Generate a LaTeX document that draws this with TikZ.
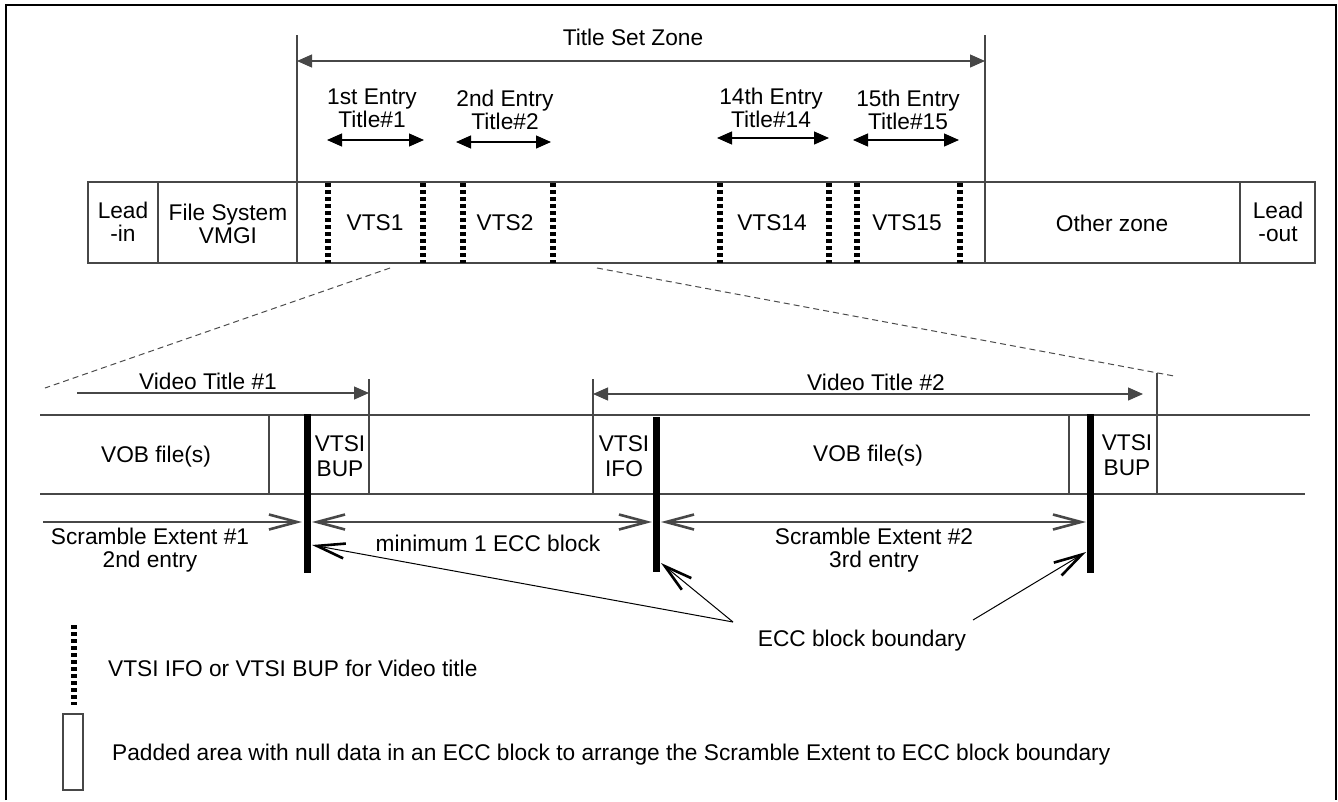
\documentclass[tikz,border=0pt]{standalone}
\usepackage{fontspec}
\setmainfont{Liberation Sans}
\usetikzlibrary{arrows.meta}
\begin{document}
\begin{tikzpicture}[x=1pt,y=-1pt,
  thin/.style={draw=black!72, line width=1.2pt},
  dashc/.style={draw=black!70, line width=1pt, dash pattern=on 6pt off 4pt},
  vtsi/.style={draw=black, line width=6.5pt, dash pattern=on 4pt off 3pt},
  ecc/.style={draw=black, line width=7pt},
  lbl/.style={font=\fontsize{22.7}{23}\selectfont, align=center, inner sep=0pt},
  lbl2/.style={font=\fontsize{22.7}{25}\selectfont, align=center, inner sep=0pt},
  tri/.tip={Triangle[length=15pt,width=13pt]},
  barb/.tip={Straight Barb[length=28pt,width=15pt,line width=2.6pt]}]
\useasboundingbox (0,0) rectangle (1338,801);
% outer frame
\draw[line width=1.6pt] (6,800) -- (6,5) -- (1336,5) -- (1336,800);

% ---------- top strip ----------
\coordinate (tsL) at (297,35);
\coordinate (tsR) at (985,35);
\draw[thin] (88,182) rectangle (1315,263);
\draw[thin] (158,182) -- (158,263);
\draw[thin] (tsL) -- (297,263);
\draw[thin] (tsR) -- (985,263);
\draw[thin] (1240,182) -- (1240,263);
\draw[thin, tri-tri] (297,61) -- (985,61);
\node[lbl] (tsz) at (633,37) {Title Set Zone};

% entry arrows
\draw[thin, draw=black, tri-tri] (327,140) -- (424,140);
\draw[thin, draw=black, tri-tri] (456,142) -- (551,142);
\draw[thin, draw=black, tri-tri] (717,138) -- (829,138);
\draw[thin, draw=black, tri-tri] (853,140) -- (959,140);
\node[lbl] (e1) at (372,108) {1st Entry\\Title\#1};
\node[lbl] (e2) at (505,110) {2nd Entry\\Title\#2};
\node[lbl] (e14) at (771,108) {14th Entry\\Title\#14};
\node[lbl] (e15) at (908,110) {15th Entry\\Title\#15};

% vtsi markers
\foreach \xx in {328,423,463,553,720,829,857,960}
  \draw[vtsi] (\xx,183) -- (\xx,263);

\node[lbl] (leadin) at (123,222) {Lead\\-in};
\node[lbl] (fs) at (228,224) {File System\\VMGI};
\node[lbl] (vts1) at (375,223) {VTS1};
\node[lbl] (vts2) at (505,223) {VTS2};
\node[lbl] (vts14) at (772,223) {VTS14};
\node[lbl] (vts15) at (907,223) {VTS15};
\node[lbl] (oz) at (1112,223) {Other zone};
\node[lbl] (leadout) at (1278,222) {Lead\\-out};

% zoom connectors
\coordinate (zA) at (390,268);
\coordinate (zB) at (45,388);
\coordinate (zC) at (597,268);
\coordinate (zD) at (1174,376);
\draw[dashc] (zA) -- (zB);
\draw[dashc] (zC) -- (zD);

% ---------- lower strip ----------
\draw[thin] (40,415) -- (1310,415);
\draw[thin] (40,494) -- (1305,494);
\draw[thin] (269,415) -- (269,494);
\draw[thin] (369,379) -- (369,494);
\draw[thin] (593,379) -- (593,494);
\draw[thin] (1069,415) -- (1069,494);
\draw[thin] (1157,373) -- (1157,494);

\draw[thin, -tri] (77,393) -- (369,393);
\draw[thin, tri-tri] (593,394) -- (1143,394);
\node[lbl] (vt1) at (208,381) {Video Title \#1};
\node[lbl] (vt2) at (876,382) {Video Title \#2};

\node[lbl] (vob1) at (156,457) {VOB file(s)};
\node[lbl2] (bup1) at (340,456) {VTSI\\BUP};
\node[lbl2] (ifo2) at (624,456) {VTSI\\IFO};
\node[lbl] (vob2) at (868,456) {VOB file(s)};
\node[lbl2] (bup2) at (1127,455) {VTSI\\BUP};

% ECC boundaries
\coordinate (b1) at (307,414);
\coordinate (b2) at (656,417);
\coordinate (b3) at (1090,414);
\draw[ecc] (b1) -- (307,573);
\draw[ecc] (b2) -- (656,572);
\draw[ecc] (b3) -- (1090,573);

% scramble arrows
\draw[thin, -barb] (43,522) -- (302,522);
\draw[thin, barb-barb] (312,522) -- (652,522);
\draw[thin, barb-barb] (661,522) -- (1086,522);
\node[lbl] (se1) at (150,550) {Scramble Extent \#1\\2nd entry};
\node[lbl] (min) at (488,543) {minimum 1 ECC block};
\node[lbl] (se2) at (874,550) {Scramble Extent \#2\\3rd entry};

% ECC block boundary label
\node[lbl] (eccl) at (862,641) {ECC block boundary};
\coordinate (eL) at (733,622);
\coordinate (eR) at (973,620);
\draw[draw=black, line width=1pt, -barb] (eL) -- (312,545);
\draw[draw=black, line width=1pt, -barb] (eL) -- (661,563);
\draw[draw=black, line width=1pt, -barb] (eR) -- (1086,552);

% ---------- legend ----------
\draw[vtsi] (74,625) -- (74,705);
\node[lbl, anchor=west] (leg1) at (108,668) {VTSI IFO or VTSI BUP for Video title};
\draw[thin] (63,714) rectangle (83,790);
\node[lbl, anchor=west] (leg2) at (112,755) {Padded area with null data in an ECC block to arrange the Scramble Extent to ECC block boundary};
\end{tikzpicture}
\end{document}
